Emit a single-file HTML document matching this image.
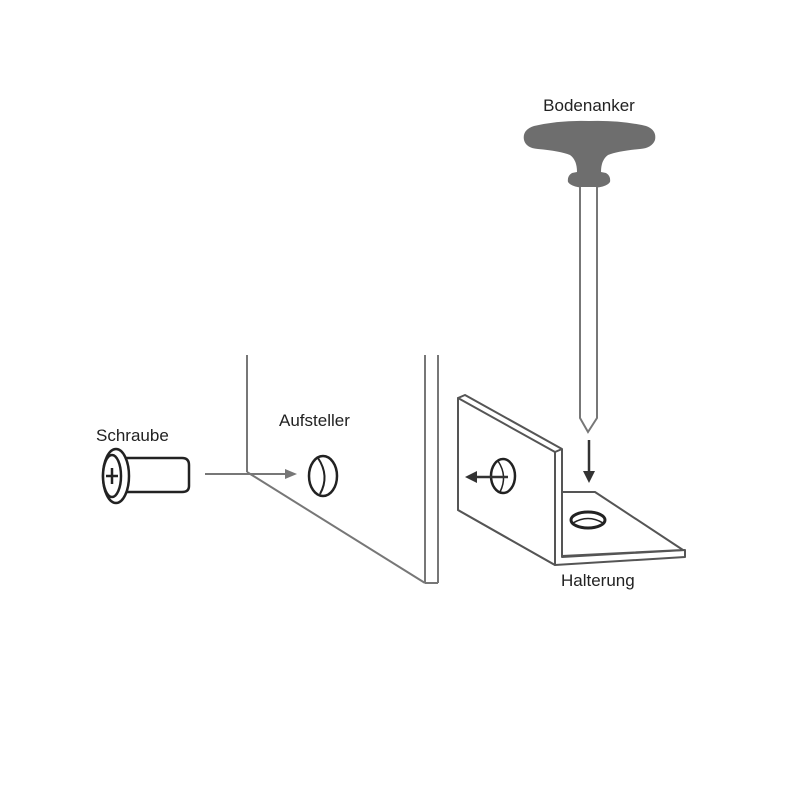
<!DOCTYPE html>
<html><head><style>
html,body{margin:0;padding:0;background:#fff;}
svg{display:block;}
text{font-family:"Liberation Sans",sans-serif;font-size:17px;fill:#222;}
</style></head><body>
<svg width="800" height="800" viewBox="0 0 800 800" xmlns="http://www.w3.org/2000/svg">
<rect width="800" height="800" fill="#fff"/>
<!-- Bodenanker -->
<text x="589" y="111" text-anchor="middle">Bodenanker</text>
<path d="M534,126 Q560,120 589,121 Q620,120 646,126 Q657,130 655,140 Q652,148 640,149 Q618,151 608,155 Q601,160 601,172 L606,173 Q611,176 610,182 Q606,188 589,188 Q572,188 568,182 Q567,176 572,173 L577,172 Q577,160 570,155 Q560,151 538,149 Q526,148 524,140 Q522,130 534,126 Z" fill="#6e6e6e"/>
<path d="M580,187 L580,418 L588,432 L597,418 L597,187" fill="#fff" stroke="#777" stroke-width="2"/>
<!-- down arrow -->
<line x1="589" y1="440" x2="589" y2="472" stroke="#333" stroke-width="2.5"/>
<polygon points="583,471 595,471 589,483" fill="#333"/>
<!-- Wall -->
<g stroke="#777" stroke-width="2" fill="none">
<line x1="247" y1="355" x2="247" y2="472"/>
<line x1="247" y1="472" x2="425" y2="583"/>
<line x1="425" y1="355" x2="425" y2="583"/>
<line x1="438" y1="355" x2="438" y2="583"/>
<line x1="425" y1="583" x2="438" y2="583"/>
<line x1="205" y1="474" x2="287" y2="474"/>
</g>
<polygon points="285,469 297,474 285,479" fill="#777"/>
<!-- Screw -->
<text x="96" y="441">Schraube</text>
<g stroke="#222" stroke-width="2.5" fill="#fff">
<path d="M120,458 L182,458 Q189,458 189,465 L189,486 Q189,492 182,492 L120,492 Z"/>
<ellipse cx="116" cy="476" rx="13" ry="27"/>
<ellipse cx="112" cy="476" rx="9" ry="21"/>
</g>
<path d="M112,468 V484 M106,476 H118" stroke="#222" stroke-width="2.5"/>
<!-- Aufsteller -->
<text x="279" y="426">Aufsteller</text>
<ellipse cx="323" cy="476" rx="14" ry="20" fill="#fff" stroke="#222" stroke-width="2.5"/>
<path d="M318,458 Q330,476 320,494" stroke="#222" stroke-width="2" fill="none"/>
<!-- Bracket -->
<g stroke="#555" stroke-width="2" fill="#fff" stroke-linejoin="round">
<polygon points="458,398 465,395 562,449 562,557 685,550 685,557 555,565 458,510"/>
<polygon points="458,398 555,452 555,565 458,510"/>
<polygon points="562,492 595,492 683,550 562,556"/>
<line x1="555" y1="452" x2="562" y2="449"/>
</g>
<ellipse cx="588" cy="520" rx="17" ry="8" fill="#fff" stroke="#222" stroke-width="3"/>
<path d="M573,523 Q588,514 603,523" stroke="#222" stroke-width="1.5" fill="none"/>
<ellipse cx="503" cy="476" rx="12" ry="17" fill="#fff" stroke="#222" stroke-width="2.5"/>
<path d="M498,461 Q508,476 500,492" stroke="#222" stroke-width="1.5" fill="none"/>
<line x1="475" y1="477" x2="508" y2="477" stroke="#333" stroke-width="2.5"/>
<polygon points="465,477 477,471 477,483" fill="#333"/>
<text x="561" y="586">Halterung</text>
</svg>
</body></html>
